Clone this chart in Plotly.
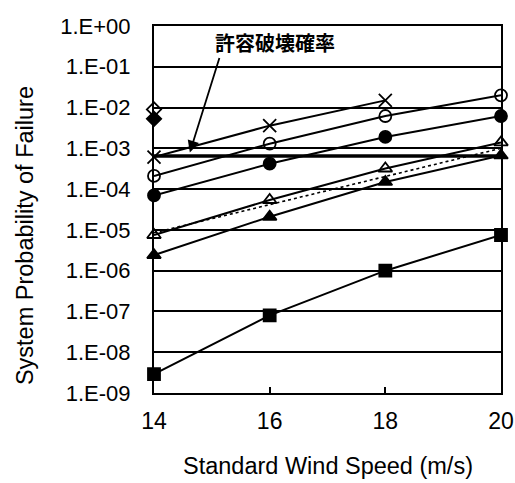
import plotly.graph_objects as go

wind = [14, 16, 18, 20]

diamond_open = [9.0e-3]
diamond_filled = [5.3e-3]
cross_vals = [6.1e-4, 3.6e-3, 1.5e-2]
circle_open = [2.1e-4, 1.3e-3, 6.2e-3, 2.0e-2]
circle_filled = [7.0e-5, 4.2e-4, 1.9e-3, 6.2e-3]
tri_open = [7.5e-6, 5.4e-5, 3.2e-4, 1.4e-3]
tri_filled = [2.4e-6, 2.1e-5, 1.5e-4, 6.7e-4]
square_filled = [2.9e-9, 8.0e-8, 1.0e-6, 7.5e-6]
dotted_x = [14, 20]
dotted_vals = [8.5e-6, 1.0e-3]
allow_x = [14, 20]
allow_vals = [6.5e-4, 6.5e-4]

tick_vals = [10.0 ** e for e in range(0, -10, -1)]
tick_text = ["1.E+00", "1.E-01", "1.E-02", "1.E-03", "1.E-04", "1.E-05",
             "1.E-06", "1.E-07", "1.E-08", "1.E-09"]
x_ticks = [14, 16, 18, 20]

fig = go.Figure()

def line_series(x, y, symbol, size=11, width=2, dash="solid", mode="lines+markers"):
    fig.add_trace(go.Scatter(
        x=x, y=y, mode=mode,
        line=dict(color="black", width=width, dash=dash),
        marker=dict(symbol=symbol, size=size, color="black",
                    line=dict(color="black", width=1.8)),
        showlegend=False, cliponaxis=False))

line_series(allow_x, allow_vals, "circle", width=3.5, mode="lines")
line_series(dotted_x, dotted_vals, "circle", width=1.6, dash="dot", mode="lines")
line_series(wind[:1], diamond_open, "diamond-open", size=11, mode="markers")
line_series(wind[:1], diamond_filled, "diamond", size=11, mode="markers")
line_series(wind[:3], cross_vals, "x-thin-open", size=13)
line_series(wind, circle_open, "circle-open", size=12)
line_series(wind, circle_filled, "circle", size=12)
line_series(wind, tri_open, "triangle-up-open", size=12)
line_series(wind, tri_filled, "triangle-up", size=12)
line_series(wind, square_filled, "square", size=12)

fig.add_annotation(x=14.62, y=-3.1, xref="x", yref="y", ax=30, ay=-96,
                   text="", showarrow=True,
                   arrowhead=2, arrowsize=1.3, arrowwidth=1.8, arrowcolor="black")
fig.add_annotation(x=0.349, y=0.956, xref="paper", yref="paper", text="<b>許容破壊確率</b>",
                   showarrow=False, xanchor="center", yanchor="middle",
                   font=dict(family="Noto Sans CJK JP", size=20, color="black"))
# axis titles
fig.add_annotation(x=0.5, y=-0.199, xref="paper", yref="paper",
                   text="Standard Wind Speed (m/s)", showarrow=False,
                   xanchor="center", yanchor="middle", font=dict(size=23.5))
fig.add_annotation(x=-0.372, y=0.43, xref="paper", yref="paper",
                   text="System Probability of Failure", showarrow=False, textangle=-90,
                   xanchor="center", yanchor="middle", font=dict(size=23.5))

fig.update_layout(
    width=515, height=483, autosize=False,
    margin=dict(l=154, r=14, t=26, b=90),
    paper_bgcolor="white", plot_bgcolor="white",
    font=dict(family="Liberation Sans, Arial", color="black"),
    xaxis=dict(range=[14, 20], tickvals=x_ticks, showgrid=False, automargin=False,
               showline=True, linecolor="black", linewidth=2, mirror=True,
               ticks="inside", ticklen=6, tickcolor="black", tickwidth=1.5,
               tickfont=dict(size=23), zeroline=False, ticklabelstandoff=6),
    yaxis=dict(type="log", range=[-9, 0], tickvals=tick_vals, ticktext=tick_text,
               showgrid=True, gridcolor="black", gridwidth=1.6, automargin=False,
               showline=True, linecolor="black", linewidth=2, mirror=True,
               ticks="", tickfont=dict(size=22), ticklabelstandoff=17),
)

fig.write_html("out.html",
               config={"displayModeBar": False, "responsive": False},
               post_script="document.body.style.margin='0px';document.body.style.overflow='hidden';")
